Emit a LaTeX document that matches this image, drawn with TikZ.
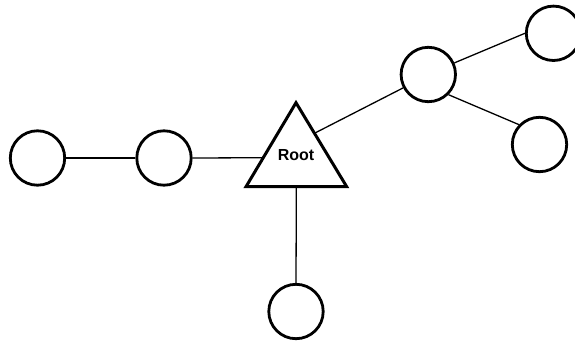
\documentclass[tikz,border=0pt]{standalone}
\usepackage{fontspec}
\setmainfont{Liberation Sans}
\usetikzlibrary{calc}
\tikzset{
  leaf/.style={circle, draw=black, line width=2.8pt, fill=white, minimum size=54.4pt, inner sep=0pt},
  link/.style={draw=black, line width=1.3pt},
  rootshape/.style={draw=black, line width=3pt, line join=miter, fill=white},
  rootlabel/.style={font=\fontsize{16}{16}\selectfont\bfseries, inner sep=0pt}
}
\begin{document}
\begin{tikzpicture}[x=1pt, y=1pt]
  \useasboundingbox (0,0) rectangle (575,341);

  % root triangle
  \coordinate (apex) at (296,238.3);
  \coordinate (bl) at (246,154.3);
  \coordinate (br) at (346.7,154.3);
  \coordinate (rootleft) at ($(apex)!0.655!(bl)$);
  \coordinate (rootright) at ($(apex)!0.364!(br)$);
  \coordinate (rootbottom) at ($(bl)!0.5!(br)$);

  % leaves
  \node[leaf] (a) at (37.5,183) {};
  \node[leaf] (b) at (164,183) {};
  \node[leaf] (d) at (296,29.5) {};
  \node[leaf] (u) at (428.3,266.5) {};
  \node[leaf] (t) at (553.5,307.7) {};
  \node[leaf] (r) at (539.5,196.5) {};

  % connectors
  \draw[link] (a.east) -- (b.west);
  \draw[link] (b.east) -- (rootleft);
  \draw[link] (rootright) -- (u.208.7);
  \draw[link] (rootbottom) -- (d.north);
  \draw[link] (u.24) -- (t.180);
  \draw[link] (u.-45.7) -- (r.136);

  \draw[rootshape] (apex) -- (br) -- (bl) -- cycle;
  \node[rootlabel] (root) at (296,185.5) {Root};
\end{tikzpicture}
\end{document}
